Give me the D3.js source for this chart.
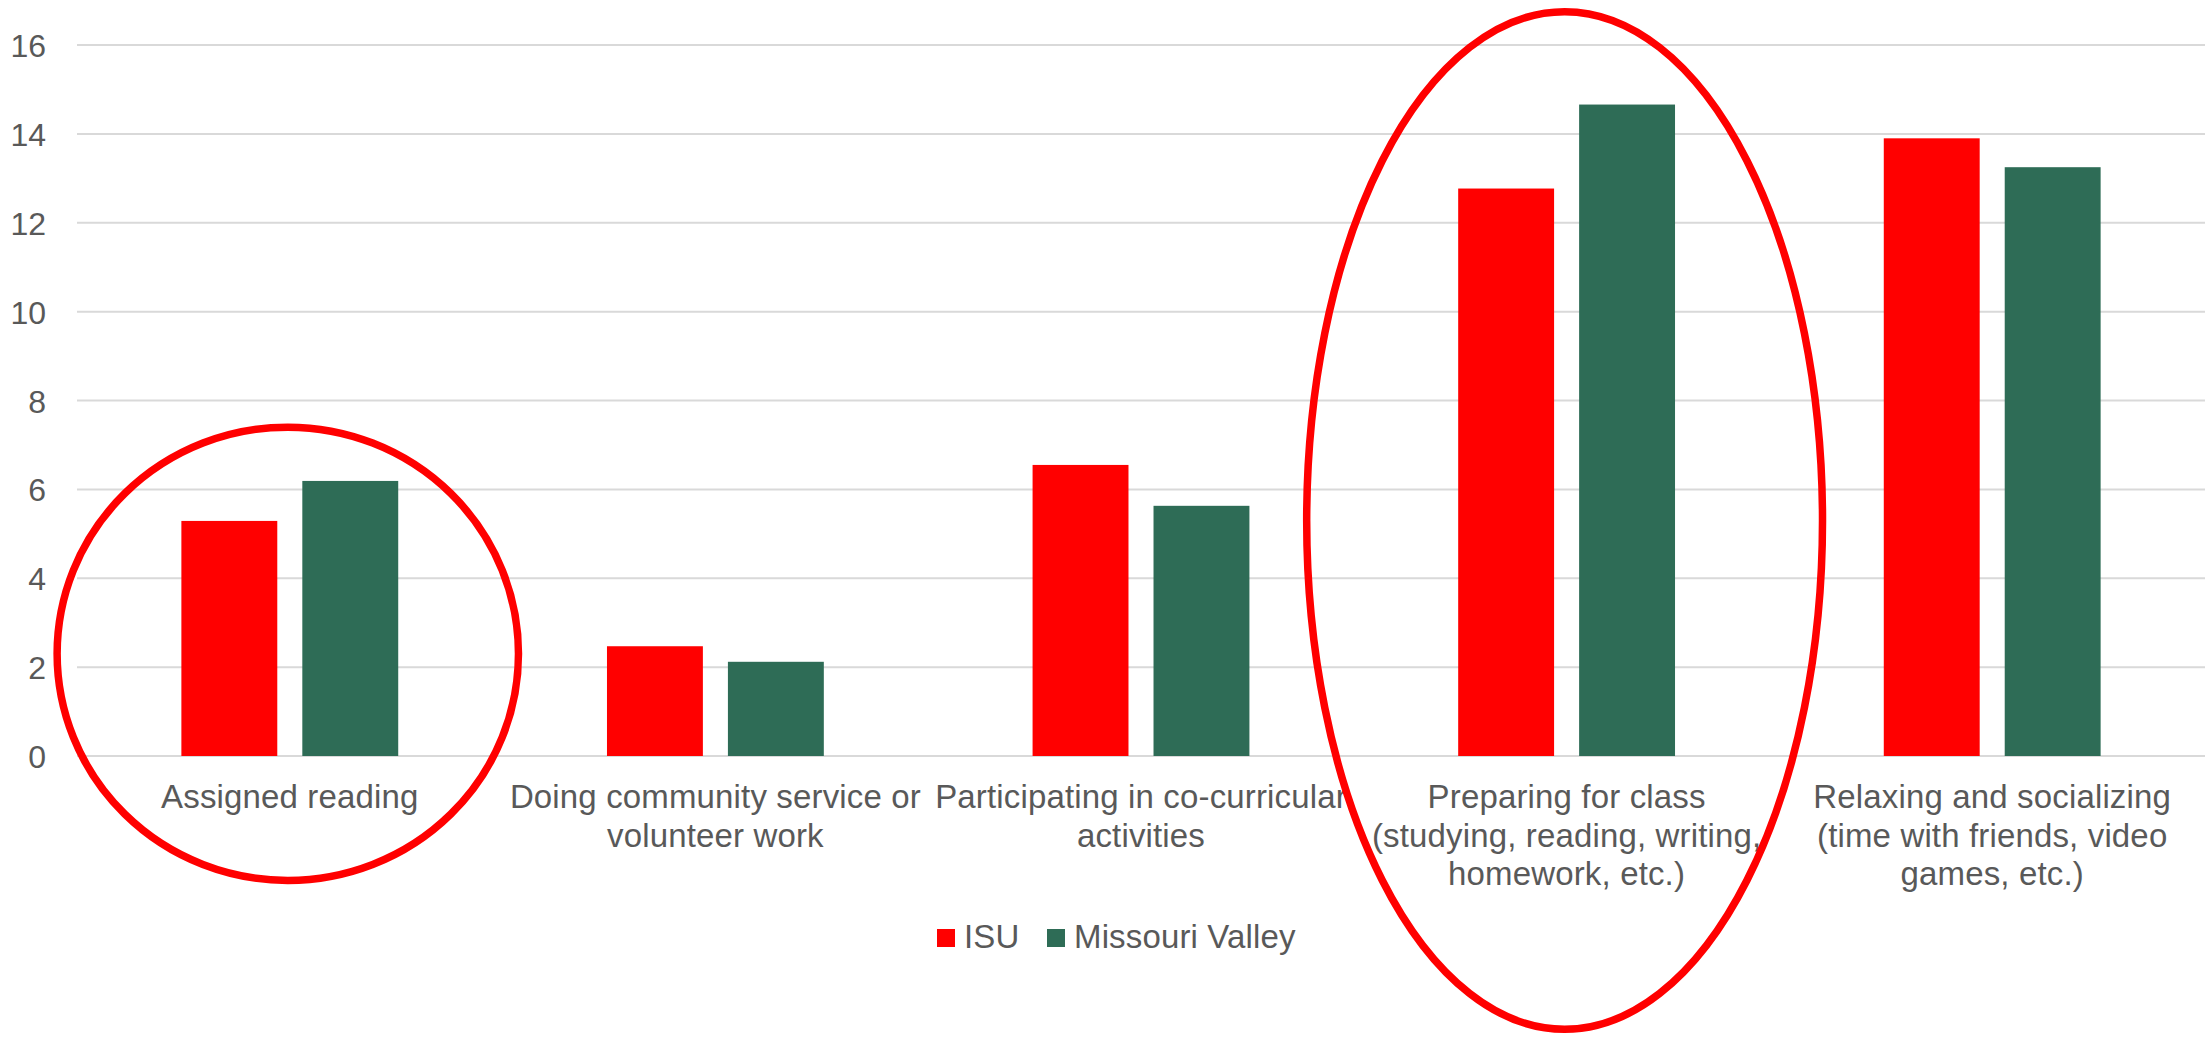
<!DOCTYPE html>
<html>
<head>
<meta charset="utf-8">
<script src="https://cdn.jsdelivr.net/npm/d3@7"></script>
<style>
  html, body { margin: 0; padding: 0; background: #ffffff; }
  svg { display: block; }
  text { font-family: "Liberation Sans", Arial, Helvetica, sans-serif; fill: #595959; }
</style>
</head>
<body>
<svg id="chart" width="2207" height="1037"></svg>
<script>
// ---- data ----
const categories = [
  "Assigned reading",
  "Doing community service or\nvolunteer work",
  "Participating in co-curricular\nactivities",
  "Preparing for class\n(studying, reading, writing,\nhomework, etc.)",
  "Relaxing and socializing\n(time with friends, video\ngames, etc.)"
];
const seriesNames = ["ISU", "Missouri Valley"];
const isuValues = [5.29, 2.47, 6.55, 12.77, 13.90];
const mvValues  = [6.19, 2.12, 5.63, 14.66, 13.25];
const yTicks = [0, 2, 4, 6, 8, 10, 12, 14, 16];
const highlighted = ["Assigned reading", "Preparing for class\n(studying, reading, writing,\nhomework, etc.)"];

// ---- layout / styles ----
const W = 2207, H = 1037;
const plot = { left: 77, right: 2205, top: 45, bottom: 756 };
const colors = { "ISU": "#ff0000", "Missouri Valley": "#2e6c56" };
const fontSize = 32;
const labelFontSize = 33;
const labelSpacing = "0.15px";

const svg = d3.select("#chart");

const x = d3.scaleBand().domain(categories).range([plot.left, plot.right]).paddingInner(0).paddingOuter(0);
const y = d3.scaleLinear().domain([0, 16]).range([plot.bottom, plot.top]);

const groupWidth = x.bandwidth() * 0.5095;
const xs = d3.scaleBand().domain(seriesNames)
  .range([(x.bandwidth() - groupWidth) / 2, (x.bandwidth() + groupWidth) / 2])
  .paddingInner(0.207).paddingOuter(0);

// gridlines
svg.append("g").attr("class", "grid")
  .selectAll("line").data(yTicks).join("line")
  .attr("x1", plot.left).attr("x2", plot.right)
  .attr("y1", d => y(d)).attr("y2", d => y(d))
  .attr("stroke", "#d9d9d9").attr("stroke-width", 2);

// y axis labels via d3 axis
const yAxis = d3.axisLeft(y).tickValues(yTicks).tickSize(0).tickPadding(0).tickFormat(d3.format("d"));
const yg = svg.append("g").attr("transform", `translate(46,0)`).call(yAxis);
yg.select(".domain").remove();
yg.selectAll("text").attr("font-size", fontSize).attr("font-family", "Liberation Sans, Arial, sans-serif")
  .attr("fill", "#595959").attr("dy", "0.36em");

// bars
const rows = categories.map((c, i) => ({ cat: c, values: [
  { s: "ISU", v: isuValues[i] }, { s: "Missouri Valley", v: mvValues[i] } ] }));

const gCat = svg.append("g").selectAll("g").data(rows).join("g")
  .attr("transform", d => `translate(${x(d.cat)},0)`);
gCat.selectAll("rect").data(d => d.values).join("rect")
  .attr("x", d => xs(d.s)).attr("width", xs.bandwidth())
  .attr("y", d => y(d.v)).attr("height", d => y(0) - y(d.v))
  .attr("fill", d => colors[d.s]);

// category labels
const labels = svg.append("g").selectAll("text").data(categories).join("text")
  .attr("text-anchor", "middle")
  .attr("font-size", labelFontSize)
  .attr("letter-spacing", labelSpacing)
  .attr("x", d => x(d) + x.bandwidth() / 2)
  .attr("y", 808);
labels.each(function(d) {
  const t = d3.select(this);
  d.split("\n").forEach((line, i) => {
    t.append("tspan").attr("x", x(d) + x.bandwidth() / 2).attr("dy", i === 0 ? 0 : 38.6).text(line);
  });
});

// legend
const legend = svg.append("g").attr("transform", "translate(937,929)");
const legendOffsets = [0, 110];
seriesNames.forEach((s, i) => {
  const g = legend.append("g").attr("transform", `translate(${legendOffsets[i]},0)`);
  g.append("rect").attr("width", 18).attr("height", 18).attr("fill", colors[s]);
  g.append("text").attr("x", 27).attr("y", 18.5).attr("font-size", labelFontSize)
    .attr("letter-spacing", labelSpacing).text(s);
});

// highlight ellipses (annotations)
const ellipseSpecs = [
  { cat: highlighted[0], cyVal: 2.3, ryVal: 5.1, rxFrac: 0.542 },
  { cat: highlighted[1], cyVal: 5.3, ryVal: 11.45, rxFrac: 0.606 }
];
svg.append("g").selectAll("ellipse").data(ellipseSpecs).join("ellipse")
  .attr("cx", d => x(d.cat) + x.bandwidth() / 2 - 2)
  .attr("cy", d => y(d.cyVal))
  .attr("rx", d => x.bandwidth() * d.rxFrac)
  .attr("ry", d => y(0) - y(d.ryVal))
  .attr("fill", "none").attr("stroke", "#ff0000").attr("stroke-width", 7.5);
</script>
</body>
</html>
